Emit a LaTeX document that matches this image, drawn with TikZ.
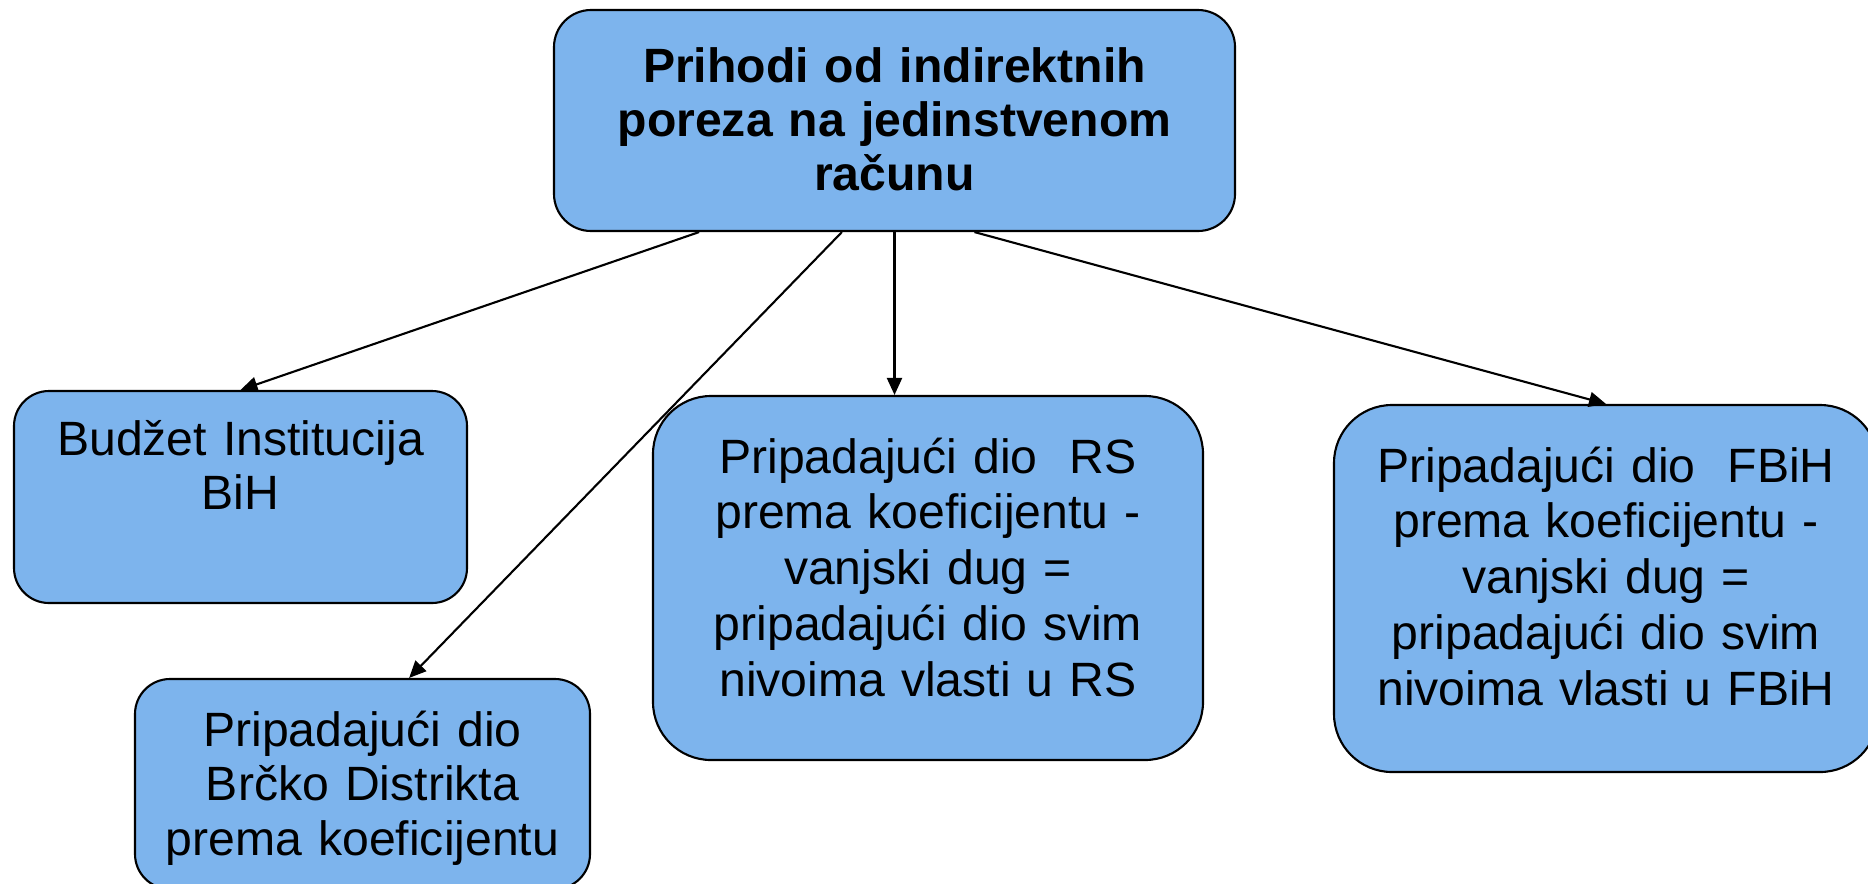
\documentclass[tikz,border=0pt]{standalone}
\usepackage{fontspec}
\setmainfont{Liberation Sans}
\usetikzlibrary{arrows.meta,calc}
\definecolor{boxblue}{RGB}{125,180,237}

\begin{document}
\begin{tikzpicture}[
    box/.style={draw, line width=0.6pt, fill=boxblue, align=center, inner sep=0pt,
        text height=0pt, font=\fontsize{13.7}{15.6}\selectfont},
    arr/.style={line width=0.6pt, -{Triangle[length=0.17cm, width=0.15cm]}}
]
    \useasboundingbox (0,0) rectangle (18.68,-8.83);

    \node   (1) [box, text width=6.81cm, minimum height=2.21cm, text depth=0.77cm,
                 rounded corners=0.37cm, font=\bfseries\fontsize{13.7}{15.4}\selectfont]
            at (8.945,-1.205) {Prihodi od indirektnih\\poreza na jedinstvenom\\računu};
    \node   (2) [box, text width=4.53cm, minimum height=2.12cm, text depth=0.84cm,
                 rounded corners=0.35cm]
            at (2.405,-4.97) {Budžet Institucija\\BiH};
    \node   (3) [box, text width=4.55cm, minimum height=2.10cm, text depth=0.76cm,
                 rounded corners=0.35cm]
            at (3.625,-7.84) {Pripadajući dio\\Brčko Distrikta\\prema koeficijentu};
    \node   (4) [box, text width=5.50cm, minimum height=3.64cm, text depth=2.10cm,
                 rounded corners=0.58cm, font=\fontsize{13.7}{15.9}\selectfont]
            at (9.28,-5.78) {Pripadajući dio~ RS\\prema koeficijentu -\\vanjski dug =\\pripadajući dio svim\\nivoima vlasti u RS};
    \node   (5) [box, text width=5.44cm, minimum height=3.67cm, text depth=2.13cm,
                 rounded corners=0.58cm, font=\fontsize{13.7}{15.9}\selectfont]
            at (16.06,-5.885) {Pripadajući dio~ FBiH\\prema koeficijentu -\\vanjski dug =\\pripadajući dio svim\\nivoima vlasti u FBiH};

    \draw[arr]  ($(1.south west)!0.214!(1.south east)$) -- (2.north);
    \draw[arr]  ($(1.south west)!0.423!(1.south east)$) -- ($(3.north west)!0.602!(3.north east)$);
    \draw[arr]  (1.south) -- (1.south |- 4.north);
    \draw[arr]  ($(1.south west)!0.617!(1.south east)$) -- (5.north);
\end{tikzpicture}
\end{document}
